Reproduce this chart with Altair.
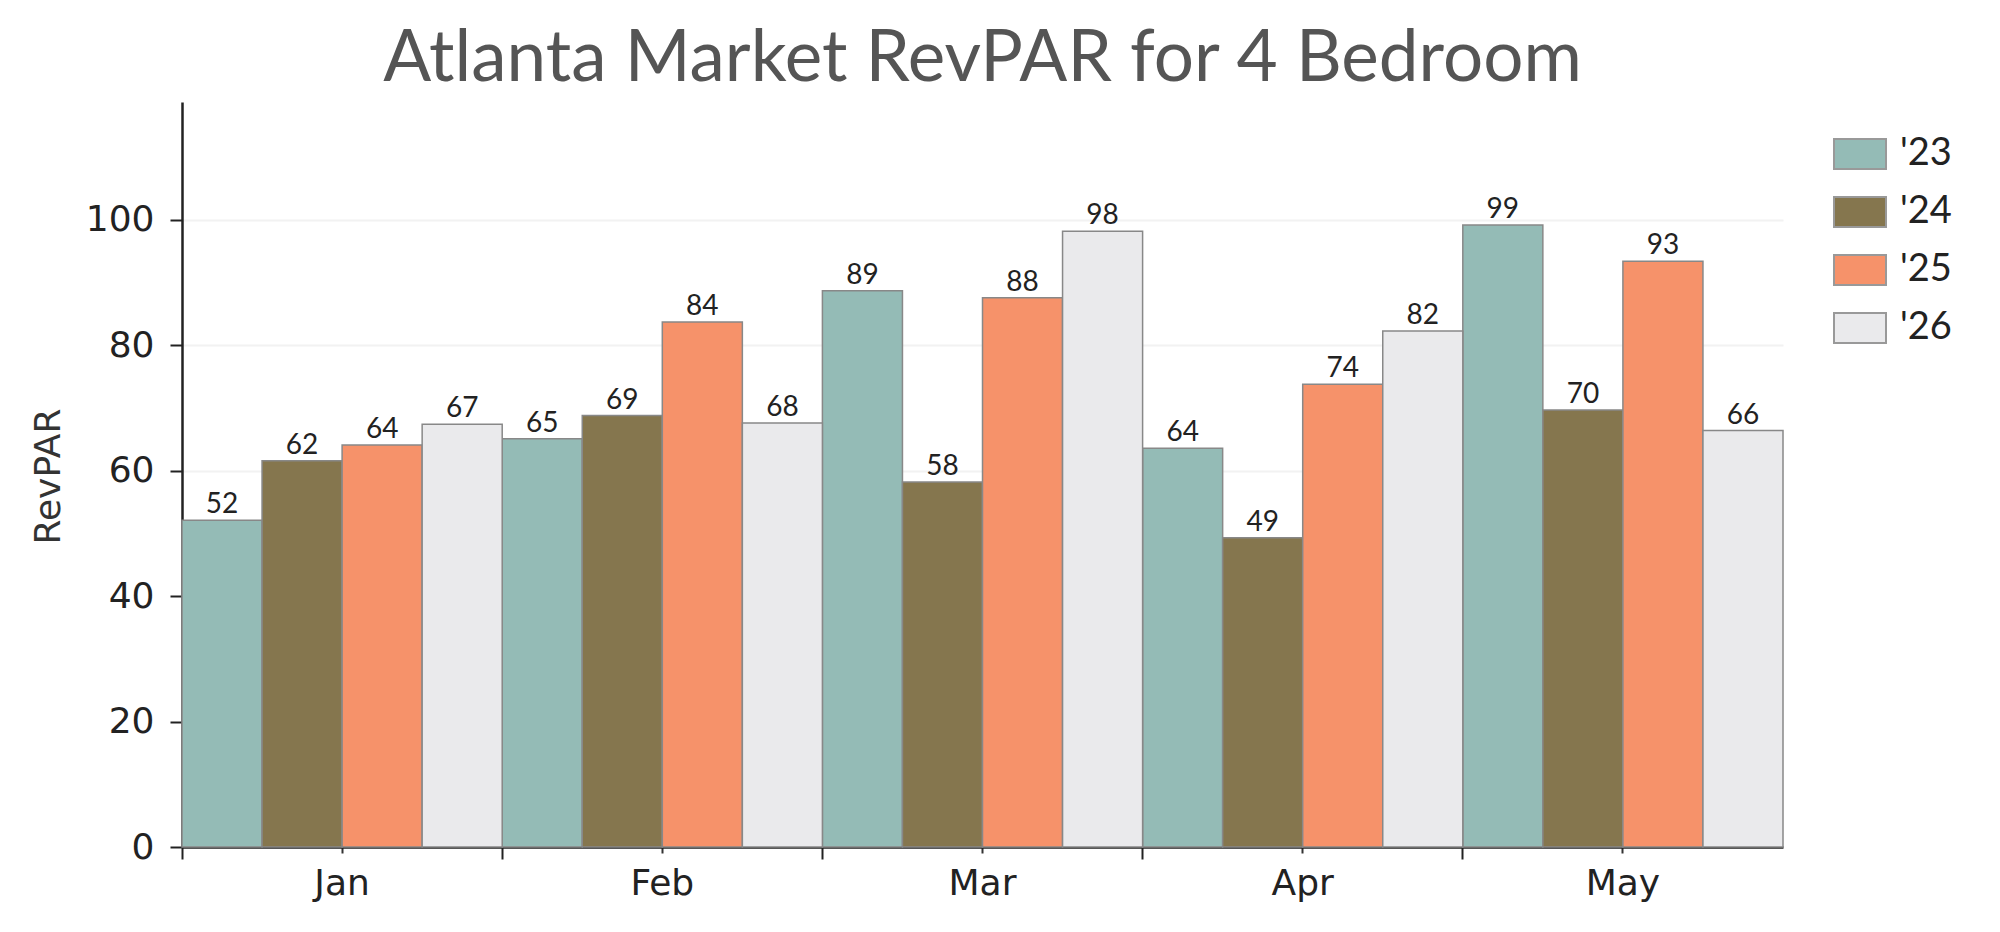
import pandas as pd
import altair as alt

# Months, years and RevPAR values
MONTHS = ["Jan", "Feb", "Mar", "Apr", "May"]
YEARS = ["'23", "'24", "'25", "'26"]
REVPAR_23 = [52.1, 65.1, 88.7, 63.6, 99.2]
REVPAR_24 = [61.6, 68.8, 58.2, 49.3, 69.7]
REVPAR_25 = [64.1, 83.7, 87.6, 73.8, 93.4]
REVPAR_26 = [67.4, 67.6, 98.2, 82.3, 66.4]
Y_TICKS = [0, 20, 40, 60, 80, 100]
COLORS = ["#94bbb6", "#85764e", "#f6926a", "#eaeaec"]

rows = []
for year, values in zip(YEARS, [REVPAR_23, REVPAR_24, REVPAR_25, REVPAR_26]):
    for month, v in zip(MONTHS, values):
        rows.append({"Month": month, "Year": year, "RevPAR": v})
df = pd.DataFrame(rows)

x_scale = alt.Scale(paddingInner=0, paddingOuter=0)
offset = alt.XOffset("Year:N", sort=YEARS, scale=alt.Scale(paddingInner=0, paddingOuter=0))
y = alt.Y(
    "RevPAR:Q",
    scale=alt.Scale(domain=[0, 118.8], nice=False),
    axis=alt.Axis(
        values=Y_TICKS,
        tickSize=12,
        tickWidth=2,
        tickColor="#222222",
        domainColor="#222222",
        domainWidth=2.5,
        labelFont="DejaVu Sans",
        labelFontSize=36,
        labelColor="#222222",
        labelPadding=16,
        grid=True,
        gridColor="#f2f2f2",
        gridWidth=2,
        title="RevPAR",
        titleFont="DejaVu Sans",
        titleFontSize=36,
        titleFontWeight="normal",
        titleColor="#333333",
        titleX=-134,
        titleY=374,
        titleAngle=270,
        titleAlign="center",
        titleBaseline="middle",
    ),
)

base = alt.Chart(df)

bars = base.mark_bar(stroke="#888888", strokeWidth=1.5).encode(
    x=alt.X(
        "Month:N",
        sort=MONTHS,
        scale=x_scale,
        axis=alt.Axis(
            title=None,
            labelAngle=0,
            tickSize=6,
            tickWidth=2,
            tickColor="#333333",
            domainColor="#222222",
            domainWidth=2.5,
            labelFont="DejaVu Sans",
            labelFontSize=36,
            labelColor="#222222",
            labelPadding=13,
            grid=False,
            orient="bottom",
        ),
    ),
    xOffset=offset,
    y=y,
    color=alt.Color(
        "Year:N",
        sort=YEARS,
        scale=alt.Scale(domain=YEARS, range=COLORS),
        legend=alt.Legend(
            title=None,
            orient="none",
            legendX=1651,
            legendY=25,
            symbolType="M-1,-0.577H1V0.577H-1Z",
            symbolSize=2704,
            symbolStrokeColor="#999999",
            symbolStrokeWidth=2,
            symbolOpacity=1,
            labelFont="Lato",
            labelFontSize=38,
            labelColor="#222222",
            labelOffset=13,
            rowPadding=11,
            padding=0,
        ),
    ),
)

# the text layer also carries the long ticks at the group edges
labels = base.mark_text(
    baseline="alphabetic", dy=-7, font="Lato", fontSize=28, color="#222222"
).encode(
    x=alt.X(
        "Month:N",
        sort=MONTHS,
        scale=x_scale,
        axis=alt.Axis(
            title=None,
            labels=False,
            domain=False,
            tickSize=12,
            tickWidth=2,
            tickColor="#222222",
            bandPosition=0,
            grid=False,
            orient="bottom",
        ),
    ),
    xOffset=offset,
    y=y,
    text=alt.Text("RevPAR:Q", format=".0f"),
)

chart = (
    alt.layer(bars, labels)
    .resolve_axis(x="independent")
    .properties(
        width=1601,
        height=745,
        autosize=alt.AutoSizeParams(type="none"),
        padding={"left": 174, "top": 94, "right": 209, "bottom": 77},
        title=alt.TitleParams(
            "Atlanta Market RevPAR for 4 Bedroom",
            font="Lato",
            fontSize=71,
            fontWeight="normal",
            color="#555555",
            anchor="middle",
            baseline="alphabetic",
            offset=-50,
        ),
    )
    .configure_view(stroke=None)
)

chart.save("out.html", embed_options={"renderer": "svg", "actions": False})
